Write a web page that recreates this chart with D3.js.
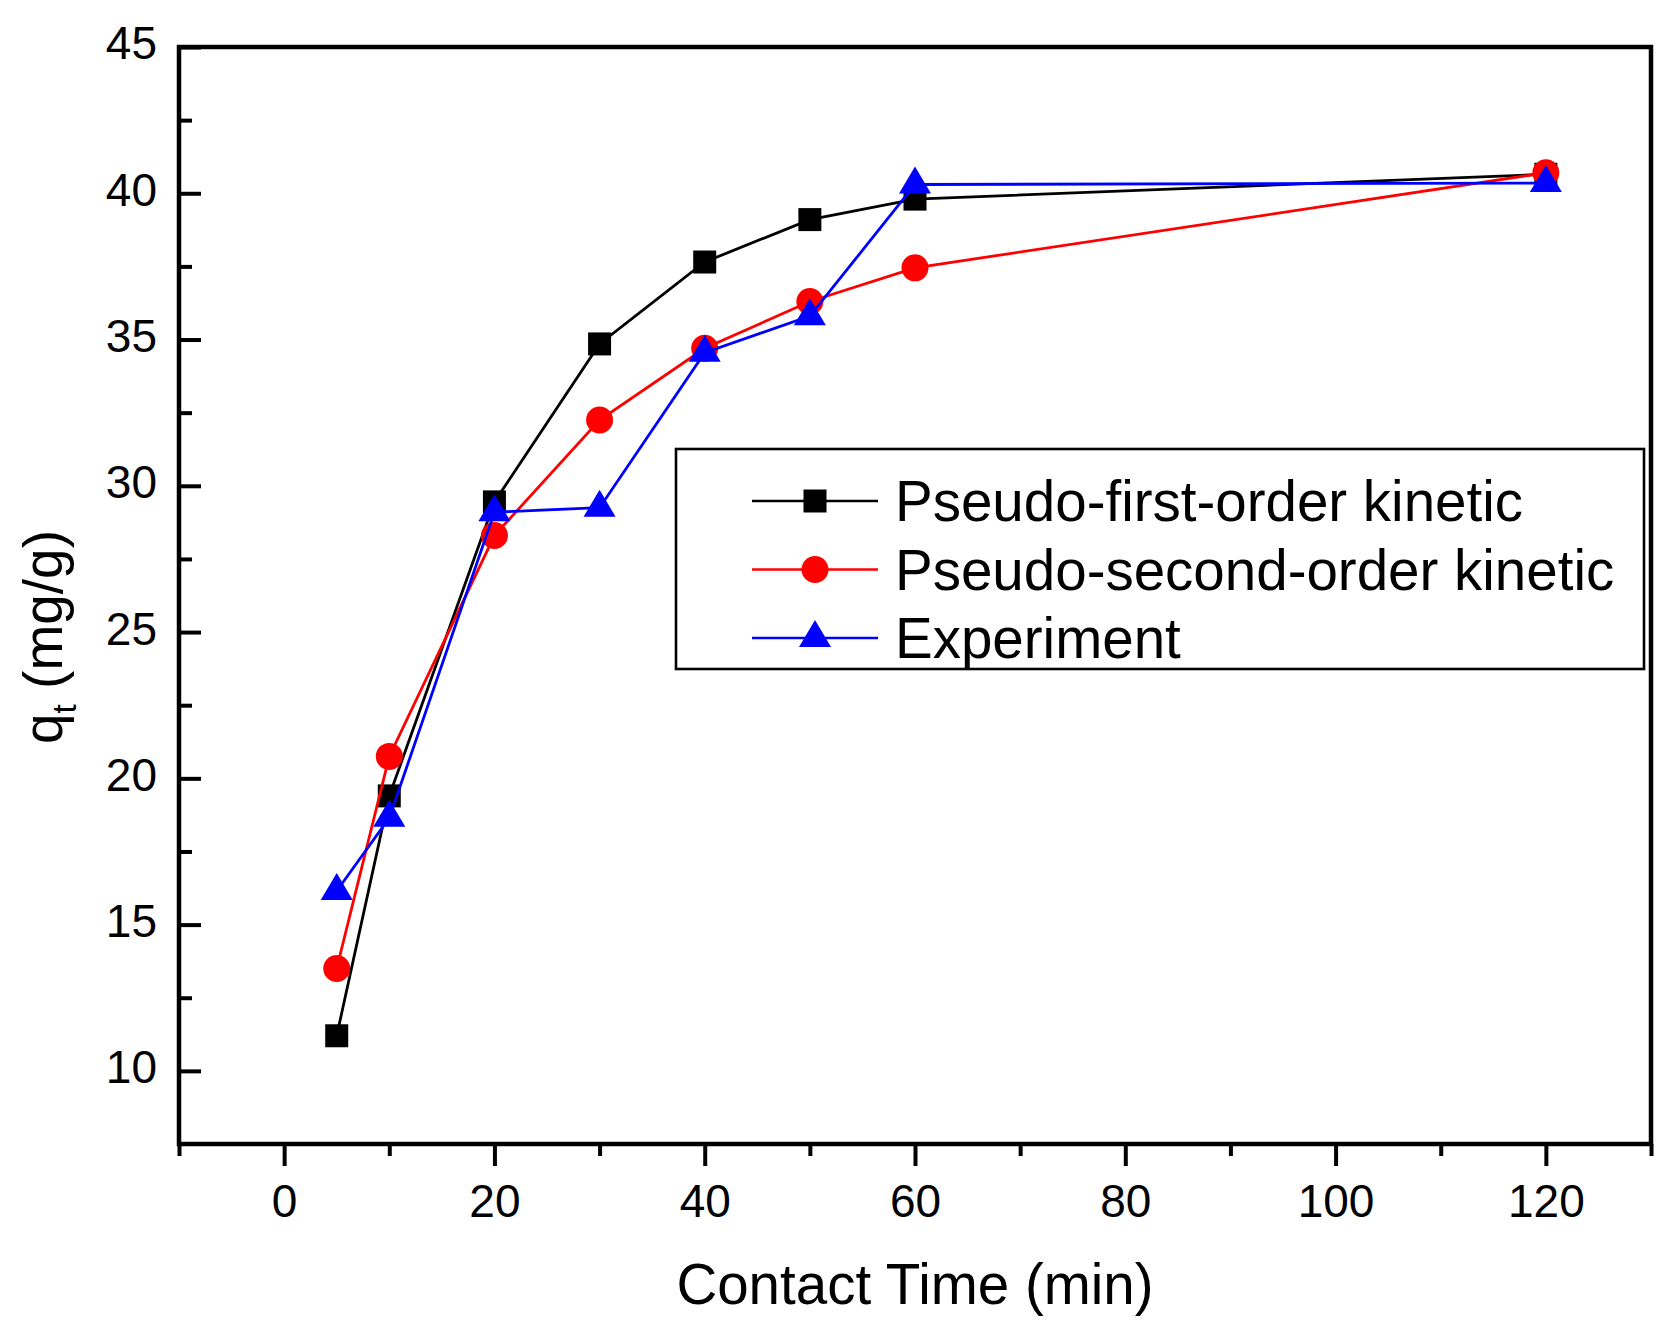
<!DOCTYPE html>
<html>
<head>
<meta charset="utf-8">
<script src="https://cdn.jsdelivr.net/npm/d3@7"></script>
<style>
  body { margin: 0; background: #fff; }
  text { font-family: "Liberation Sans", Arial, sans-serif; fill: #000; }
</style>
</head>
<body>
<div id="wrapper"></div>
<script>
width = 1680
height = 1342

marginTop = 47 // top of the frame
marginRight = 28 // right margin, in pixels
marginBottom = 198 // bottom margin, in pixels
marginLeft = 179 // left margin, in pixels

// contact time (min)
var time = [5, 10, 20, 30, 40, 50, 60, 120]
// q_t (mg/g)
var firstOrder = [11.2, 19.4, 29.45, 34.85, 37.65, 39.1, 39.8, 40.65]
var secondOrder = [13.5, 20.75, 28.3, 32.25, 34.7, 36.3, 37.45, 40.7]
var experiment = [16.15, 18.65, 29.1, 29.25, 34.55, 35.8, 40.3, 40.35]

var seriesNames = ["Pseudo-first-order kinetic", "Pseudo-second-order kinetic", "Experiment"]
var seriesColors = ["#000000", "#ff0000", "#0000ff"]
var seriesSymbols = ["square", "circle", "triangle"]

var xTicks = [0, 20, 40, 60, 80, 100, 120]
var xMinorTicks = [-10, 10, 30, 50, 70, 90, 110, 130]
var yTicks = [10, 15, 20, 25, 30, 35, 40, 45]
var yMinorTicks = [12.5, 17.5, 22.5, 27.5, 32.5, 37.5, 42.5]

const svg = d3.select("#wrapper").append("svg")
    .attr("width", width)
    .attr("height", height)

var x = d3.scaleLinear()
    .domain([-10, 130])
    .range([marginLeft, width - marginRight - 1])

var y = d3.scaleLinear()
    .domain([7.5, 45])
    .range([height - marginBottom, marginTop])

// bottom axis: ticks point outward
svg.append("g")
    .attr("transform", `translate(0, ${y(7.5)})`)
    .call(d3.axisBottom(x).tickValues(xMinorTicks).tickSize(12).tickFormat(""))
    .call(g => g.select(".domain").remove())
    .call(g => g.selectAll("line").attr("stroke-width", 4))

svg.append("g")
    .attr("transform", `translate(0, ${y(7.5)})`)
    .call(d3.axisBottom(x).tickValues(xTicks).tickSize(22).tickPadding(18))
    .call(g => g.select(".domain").remove())
    .call(g => g.selectAll("line").attr("stroke-width", 4))
    .call(g => g.selectAll("text").attr("font-size", 46))

// left axis: ticks point inward
svg.append("g")
    .attr("transform", `translate(${x(-10)}, 0)`)
    .call(d3.axisLeft(y).tickValues(yMinorTicks).tickSize(-13).tickFormat(""))
    .call(g => g.select(".domain").remove())
    .call(g => g.selectAll("line").attr("stroke-width", 4))

svg.append("g")
    .attr("transform", `translate(${x(-10)}, 0)`)
    .call(d3.axisLeft(y).tickValues(yTicks).tickSize(-22).tickPadding(22))
    .call(g => g.select(".domain").remove())
    .call(g => g.selectAll("line").attr("stroke-width", 4))
    .call(g => g.selectAll("text").attr("font-size", 46).attr("dy", "0.26em"))

// frame
svg.append("rect")
    .attr("x", x(-10))
    .attr("y", y(45))
    .attr("width", x(130) - x(-10))
    .attr("height", y(7.5) - y(45))
    .attr("fill", "none")
    .attr("stroke", "#000")
    .attr("stroke-width", 4.5)

// axis titles
svg.append("text")
    .attr("x", (x(-10) + x(130)) / 2)
    .attr("y", 1304)
    .attr("text-anchor", "middle")
    .attr("font-size", 56.5)
    .text("Contact Time (min)")

var yTitle = svg.append("text")
    .attr("transform", "translate(62, 637) rotate(-90)")
    .attr("text-anchor", "middle")
    .attr("font-size", 55)
yTitle.append("tspan").text("q")
yTitle.append("tspan").attr("font-size", 33).attr("dy", 14).text("t")
yTitle.append("tspan").attr("dy", -14).text(" (mg/g)")

function symbolPath(kind) {
    if (kind == "square") return "M-11.5,-11.5H11.5V11.5H-11.5Z"
    if (kind == "circle") return d3.symbol(d3.symbolCircle, Math.PI * 13.5 * 13.5)()
    // triangle centred on its centroid
    return "M0,-18L16,9L-16,9Z"
}

var seriesValues = [firstOrder, secondOrder, experiment]

var line = d3.line()
    .x(d => x(d.t))
    .y(d => y(d.q))

seriesValues.forEach((values, i) => {
    var points = time.map((t, j) => ({ t: t, q: values[j] }))
    var g = svg.append("g")
    g.append("path")
        .datum(points)
        .attr("d", line)
        .attr("fill", "none")
        .attr("stroke", seriesColors[i])
        .attr("stroke-width", 2.8)
    g.selectAll(".marker")
        .data(points)
        .join("path")
        .attr("class", "marker")
        .attr("transform", d => `translate(${x(d.t)}, ${y(d.q)})`)
        .attr("d", symbolPath(seriesSymbols[i]))
        .attr("fill", seriesColors[i])
})

// legend
var legend = svg.append("g")
legend.append("rect")
    .attr("x", 676)
    .attr("y", 449)
    .attr("width", 968)
    .attr("height", 220)
    .attr("fill", "#fff")
    .attr("stroke", "#000")
    .attr("stroke-width", 2.6)

seriesNames.forEach((name, i) => {
    var rowY = 501 + i * 68.5
    legend.append("line")
        .attr("x1", 752)
        .attr("x2", 878)
        .attr("y1", rowY)
        .attr("y2", rowY)
        .attr("stroke", seriesColors[i])
        .attr("stroke-width", 2.6)
    legend.append("path")
        .attr("transform", `translate(815, ${rowY})`)
        .attr("d", symbolPath(seriesSymbols[i]))
        .attr("fill", seriesColors[i])
    legend.append("text")
        .attr("x", 895)
        .attr("y", rowY + 20)
        .attr("font-size", 56.5)
        .text(name)
})
</script>
</body>
</html>
